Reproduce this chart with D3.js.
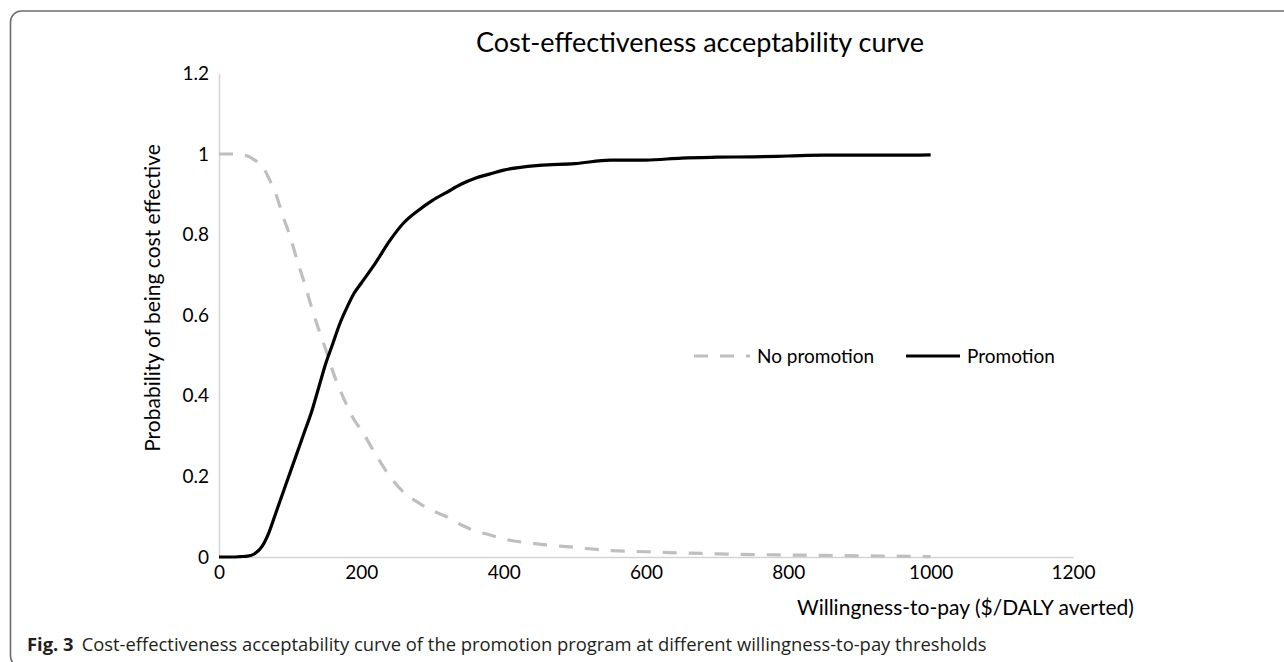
<!DOCTYPE html>
<html><head><meta charset="utf-8">
<script src="https://cdn.jsdelivr.net/npm/d3@7"></script>
<style>
html,body{margin:0;padding:0;background:#fff;}
svg{display:block;}
</style></head>
<body>
<script>
const wtp = [0,10,20,30,40,50,60,70,80,90,100,110,120,130,140,150,160,170,180,190,200,220,240,260,280,300,320,340,360,380,400,450,500,550,600,650,700,750,800,850,900,950,1000];
const promotion = [0,0,0,0.001,0.002,0.008,0.025,0.06,0.11,0.16,0.21,0.26,0.31,0.36,0.42,0.48,0.53,0.58,0.62,0.655,0.68,0.73,0.785,0.83,0.86,0.885,0.905,0.925,0.94,0.95,0.96,0.972,0.976,0.985,0.985,0.99,0.992,0.993,0.995,0.997,0.997,0.997,0.998];
const noPromotion = [1,1,1,0.998,0.995,0.985,0.972,0.94,0.9,0.845,0.795,0.735,0.68,0.62,0.565,0.515,0.46,0.415,0.375,0.34,0.315,0.255,0.2,0.16,0.135,0.115,0.1,0.08,0.065,0.055,0.045,0.032,0.024,0.016,0.013,0.01,0.008,0.006,0.005,0.004,0.003,0.002,0.001];
const xTicks = [0,200,400,600,800,1000,1200];
const yTicks = [0,0.2,0.4,0.6,0.8,1,1.2];
const seriesNames = ["No promotion","Promotion"];
const titleText = "Cost-effectiveness acceptability curve";
const xTitle = "Willingness-to-pay ($/DALY averted)";
const yTitle = "Probability of being cost effective";

const W = 1284, H = 662;
const svg = d3.select("body").append("svg").attr("width", W).attr("height", H);
const font = "Lato, 'Open Sans', sans-serif";

// frame
svg.append("rect").attr("x",10.5).attr("y",11).attr("width",1320).attr("height",656)
  .attr("rx",11).attr("fill","none").attr("stroke","#6d6d6d").attr("stroke-width",1.6);

const x = d3.scaleLinear().domain([0,1200]).range([219,1073]);
const y = d3.scaleLinear().domain([0,1.2]).range([557,73.4]);

// axes
const xa = svg.append("g").attr("transform",`translate(0,${y(0)})`)
  .call(d3.axisBottom(x).tickValues(xTicks).tickSize(0).tickPadding(9).tickFormat(d3.format("d")));
const ya = svg.append("g").attr("transform",`translate(${x(0)},0)`)
  .call(d3.axisLeft(y).tickValues(yTicks).tickSize(0).tickPadding(10).tickFormat(d => d3.format("")(d)));
[xa,ya].forEach(a => {
  a.select(".domain").attr("stroke","#d4d4d4").attr("stroke-width",1.5);
  a.selectAll("text").attr("font-family",font).attr("font-size",19).attr("fill","#000");
});

// lines
const pts = s => wtp.map((v,i)=>[v,s[i]]);
const line = d3.line().x(d=>x(d[0])).y(d=>y(d[1])).curve(d3.curveMonotoneX);
svg.append("path").datum(pts(noPromotion)).attr("d",line).attr("fill","none")
  .attr("stroke","#bfbfbf").attr("stroke-width",3.2).attr("stroke-dasharray","14,12");
svg.append("path").datum(pts(promotion)).attr("d",line).attr("fill","none")
  .attr("stroke","#000").attr("stroke-width",3.2);

// title
svg.append("text").attr("x",700).attr("y",52).attr("text-anchor","middle")
  .attr("font-family",font).attr("font-size",27).attr("fill","#000").text(titleText);
// axis titles
svg.append("text").attr("x",797).attr("y",615).attr("text-anchor","start")
  .attr("font-family",font).attr("font-size",21).attr("fill","#000").text(xTitle);
svg.append("text").attr("transform","translate(160,298) rotate(-90)").attr("text-anchor","middle")
  .attr("font-family",font).attr("font-size",21).attr("fill","#000").text(yTitle);

// legend
const ly = 356;
const leg = svg.append("g");
leg.append("line").attr("x1",694).attr("x2",750).attr("y1",ly).attr("y2",ly)
  .attr("stroke","#bfbfbf").attr("stroke-width",3.2).attr("stroke-dasharray","14,12");
leg.append("text").attr("x",757).attr("y",ly+6.5).attr("font-family",font).attr("font-size",19).text(seriesNames[0]);
leg.append("line").attr("x1",906).attr("x2",960).attr("y1",ly).attr("y2",ly)
  .attr("stroke","#000").attr("stroke-width",3.2);
leg.append("text").attr("x",967).attr("y",ly+6.5).attr("font-family",font).attr("font-size",19).text(seriesNames[1]);

// caption
const cap = svg.append("text").attr("x",27).attr("y",651).attr("font-family","'Open Sans', 'Noto Sans', sans-serif")
  .attr("font-size",18.4).attr("fill","#231f20");
cap.append("tspan").attr("font-weight","bold").text("Fig. 3");
cap.append("tspan").attr("dx",8).text("Cost-effectiveness acceptability curve of the promotion program at different willingness-to-pay thresholds");
</script>
</body></html>
